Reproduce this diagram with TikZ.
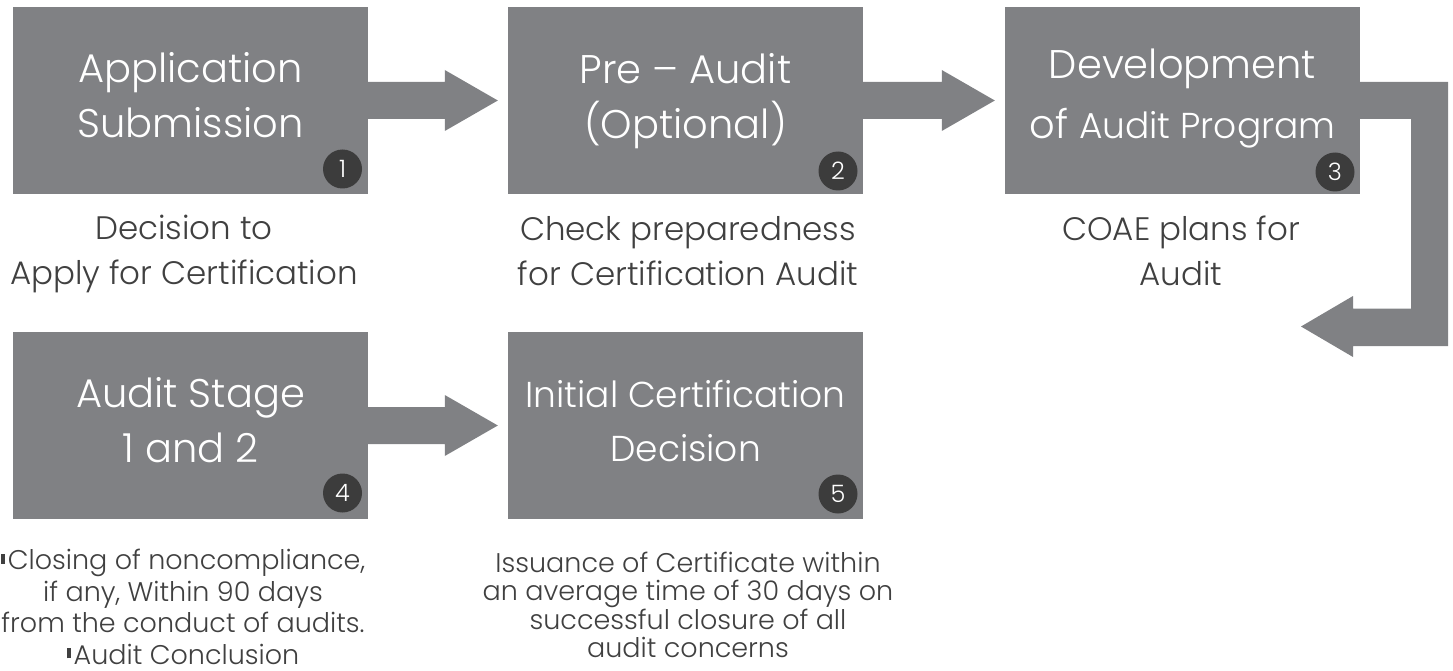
\documentclass[tikz,border=0pt]{standalone}
\usepackage{fontspec}
\setmainfont{Poppins}[UprightFont={* Light}]
\usetikzlibrary{calc}
\definecolor{boxgray}{HTML}{808184}
\definecolor{darkdot}{HTML}{3C3C3C}
\definecolor{txtgray}{HTML}{404040}
\tikzset{
  stepbox/.style={fill=boxgray, draw=none, minimum width=355pt, minimum height=187pt, inner sep=0pt},
  boxtext/.style={text=white, align=center, inner sep=0pt, font=\fontsize{40}{55}\selectfont},
  boxtextsm/.style={text=white, align=center, inner sep=0pt, font=\fontsize{36}{54}\selectfont},
  numdot/.style={circle, fill=darkdot, minimum size=39pt, inner sep=0pt, text=white, font=\fontsize{24}{24}\selectfont},
  desc/.style={text=txtgray, align=center, inner sep=0pt, font=\fontsize{32.5}{45}\selectfont},
  descsm/.style={text=txtgray, align=center, inner sep=0pt, font=\fontsize{27}{31.5}\selectfont},
  descxs/.style={text=txtgray, align=center, inner sep=0pt, font=\fontsize{27}{28.3}\selectfont},
  arrowfill/.style={fill=boxgray, draw=none},
}
\newcommand\blockarr[2]{%
  \path let \p1=(#1.east), \p2=(#2.west) in
    [arrowfill] (\x1-1pt,\y1+18.5pt) -- (\x2-63pt,\y1+18.5pt) -- (\x2-63pt,\y1+30.5pt)
    -- (\x2-10pt,\y1) -- (\x2-63pt,\y1-30.5pt) -- (\x2-63pt,\y1-18.5pt)
    -- (\x1-1pt,\y1-18.5pt) -- cycle;}
\newcommand\bulletbar{\rule[6pt]{4pt}{10pt}\hspace{3pt}}
\begin{document}
\begin{tikzpicture}[x=1pt,y=-1pt]
\useasboundingbox (0,0) rectangle (1453,671);
% boxes
\node[stepbox] (b1) at (190.5,100.5) {};
\node[stepbox] (b2) at (685.5,100.5) {};
\node[stepbox] (b3) at (1182.5,100.5) {};
\node[stepbox] (b4) at (190.5,425.5) {};
\node[stepbox] (b5) at (685.5,425.5) {};
% arrows
\blockarr{b1}{b2}
\blockarr{b2}{b3}
\blockarr{b4}{b5}
\coordinate (e3) at (1301,326.5);
\path let \p1=(b3.east), \p2=(e3) in
  [arrowfill] (\x1-1pt,\y1+18.5pt) -- (1448pt,\y1+18.5pt) -- (1448pt,\y2-19.5pt)
  -- (\x2+52pt,\y2-19.5pt) -- (\x2+52pt,\y2-30.5pt) -- (\x2,\y2)
  -- (\x2+52pt,\y2+30.5pt) -- (\x2+52pt,\y2+18pt) -- (1411pt,\y2+18pt)
  -- (1411pt,\y1-18.5pt) -- (\x1-1pt,\y1-18.5pt) -- cycle;
% box texts
\node[boxtext] (t1) at (190.5,95) {Application\\Submission};
\node[boxtext] (t2) at (685.5,101) {Pre – Audit\\(Optional)};
\node[boxtext, font=\fontsize{40}{60}\selectfont] (t3) at (1182.5,99) {Development\\of {\fontsize{36}{60}\selectfont Audit Program}};
\node[boxtext] (t4) at (190.5,420) {Audit Stage\\1 and 2};
\node[boxtextsm] (t5) at (685.5,421) {Initial Certification\\Decision};
% numbers
\node[numdot] (n1) at (342.5,169) {1};
\node[numdot] (n2) at (838,171) {2};
\node[numdot] (n3) at (1335,172) {3};
\node[numdot] (n4) at (342.5,493) {4};
\node[numdot] (n5) at (838,494) {5};
% descriptions
\node[desc] (d1) at (184,254) {Decision to\\Apply for Certification};
\node[desc] (d2) at (688,251) {Check preparedness\\for Certification Audit};
\node[desc] (d3) at (1181,251) {COAE plans for\\Audit};
\node[descsm] (d4) at (183,607) {\bulletbar Closing of noncompliance,\\if any, Within 90 days\\from the conduct of audits.\\\bulletbar Audit Conclusion};
\node[descxs] (d5) at (688,605) {Issuance of Certificate within\\an average time of 30 days on\\successful closure of all\\audit concerns};
\end{tikzpicture}
\end{document}
